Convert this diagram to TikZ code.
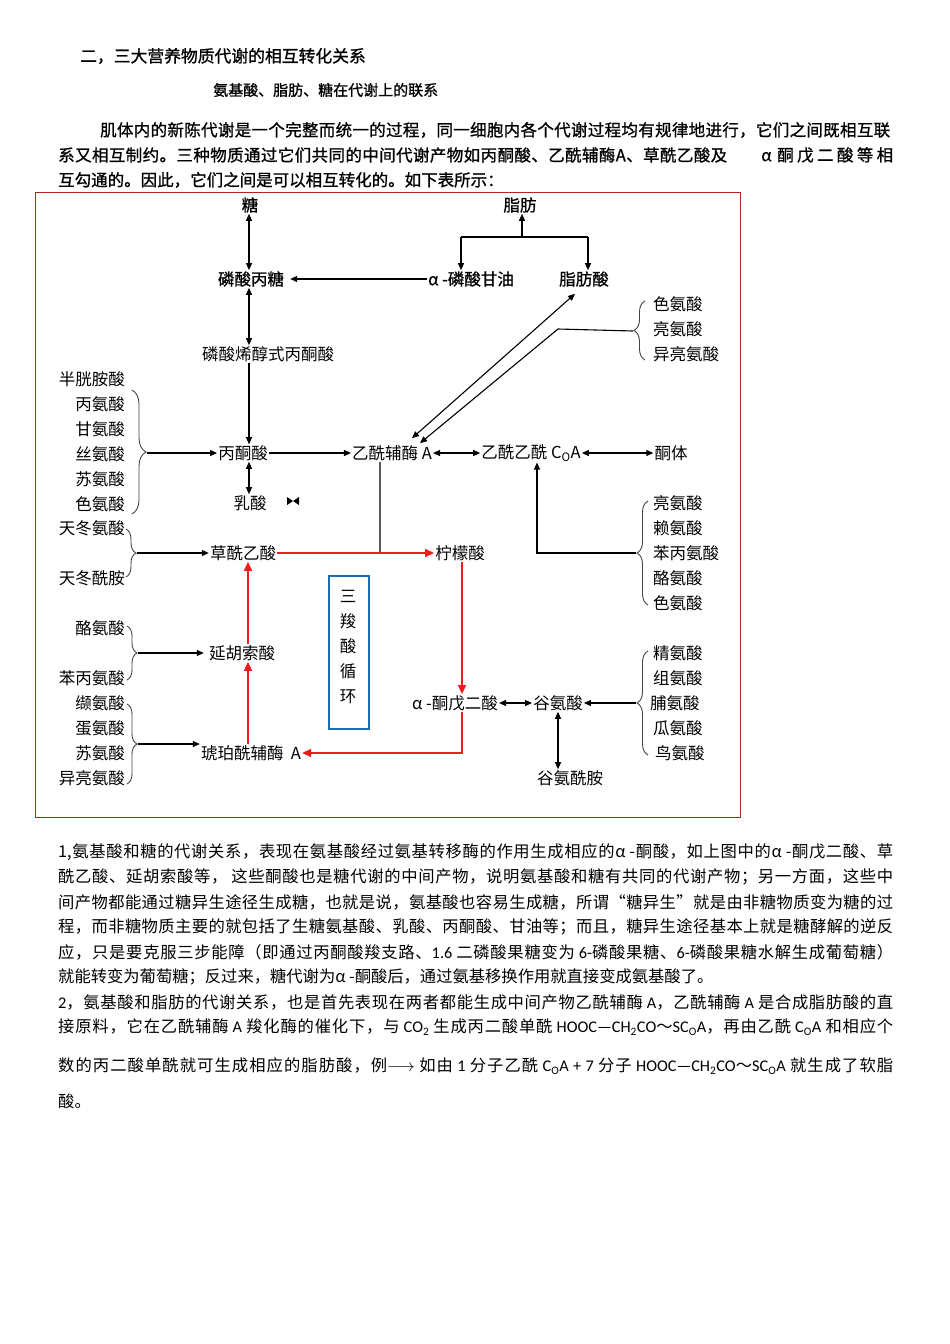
\documentclass[tikz,border=0pt]{standalone}
\usepackage{fontspec}
\setmainfont{Noto Sans CJK SC}
\newfontfamily\hei[FakeBold=1]{Noto Sans CJK SC}
\newfontfamily\carl{Carlito}
\usetikzlibrary{arrows.meta,decorations.pathreplacing}
\XeTeXinterchartokenstate=1
\newXeTeXintercharclass\cjkcls
\makeatletter
\count@="3000
\loop \XeTeXcharclass\count@=\cjkcls \ifnum\count@<"303F \advance\count@ 1 \repeat
\count@="4E00
\loop \XeTeXcharclass\count@=\cjkcls \ifnum\count@<"9FFF \advance\count@ 1 \repeat
\count@="FF00
\loop \XeTeXcharclass\count@=\cjkcls \ifnum\count@<"FFEF \advance\count@ 1 \repeat
\XeTeXcharclass"201C=\cjkcls
\XeTeXcharclass"201D=\cjkcls
\makeatother
\XeTeXinterchartoks\cjkcls\cjkcls={\hskip0pt plus 3pt minus 0.5pt\relax}
\XeTeXinterchartoks 0 \cjkcls={\hskip0pt plus 3pt minus 0.5pt\relax}
\XeTeXinterchartoks\cjkcls 0={\hskip0pt plus 3pt minus 0.5pt\relax}
\definecolor{framered}{HTML}{B3261E}
\definecolor{tcablue}{HTML}{1F6BB0}
\definecolor{redline}{HTML}{EE1C1C}
\definecolor{braceg}{HTML}{444444}
\newcommand\jl[2]{\hbox to #1pt{#2}}
\newcommand\fsD{\fontsize{16.5}{20}\selectfont}
\newcommand\fsP{\fontsize{16.5}{20}\selectfont}
\newcommand\fsQ{\fontsize{16.3}{20}\selectfont}
\newcommand\sub[1]{\textsubscript{#1}}
\tikzset{
  txt/.style={inner sep=0pt, anchor=west, font=\fsQ},
  lb/.style={inner sep=1pt, font=\fsD},
  bl/.style={inner sep=1pt, font=\hei\fsD},
  ln/.style={line width=1.1pt, draw=black},
  arr/.style={ln, -{Triangle[length=7pt,width=6pt]}},
  darr/.style={ln, {Triangle[length=7pt,width=6pt]}-{Triangle[length=7pt,width=6pt]}},
  rarr/.style={line width=1.7pt, draw=redline, -{Triangle[length=9pt,width=8pt]}, color=redline},
  grayln/.style={line width=1.2pt, draw=black!65},
  brc/.style={decorate, decoration={brace, amplitude=#1}, draw=braceg, line width=0.9pt},
  brc/.default=10pt
}
\begin{document}
\begin{tikzpicture}[x=1pt,y=-1pt]
\useasboundingbox (0,0) rectangle (950,1344);
\fill[white] (0,0) rectangle (950,1344);

% ---------- heading text ----------
\node[txt] (title) at (80,56) {\hei\fontsize{16.8}{20}\selectfont 二，三大营养物质代谢的相互转化关系};
\node[txt] (subtitle) at (213,90) {\hei\fontsize{15}{18}\selectfont 氨基酸、脂肪、糖在代谢上的联系};
\node[txt] (p1a) at (100,130) {\hei\fsP\jl{790}{肌体内的新陈代谢是一个完整而统一的过程，同一细胞内各个代谢过程均有规律地进行，它们之间既相互联}};
\node[txt] (p1b) at (58,155) {\hei\fsP\jl{669}{系又相互制约。三种物质通过它们共同的中间代谢产物如丙酮酸、乙酰辅酶A、草酰乙酸及}};
\node[txt] (p1c) at (761,155) {\hei\fsP\jl{132}{α 酮戊二酸等相}};
\node[txt] (p1d) at (58,180) {\hei\fsP 互勾通的。因此，它们之间是可以相互转化的。如下表所示：};

% ---------- frame ----------
\draw[framered, line width=1pt] (35,192) rectangle (740,817);

% ---------- diagram nodes ----------
\coordinate (c1) at (249,0);
\node[bl] (tang) at (250,205) {糖};
\node[bl] (zhifang) at (520,205) {脂肪};
\node[bl] (lsbt) at (251,279) {磷酸丙糖};
\node[bl] (agly) at (471,279) {α -磷酸甘油};
\node[bl] (zfs) at (584,279) {脂肪酸};
\node[lb] (pep) at (268,354) {磷酸烯醇式丙酮酸};
\node[lb] (pyr) at (243,453) {丙酮酸};
\node[lb] (lac) at (250,503) {乳酸};
\node[lb] (acoa) at (392,453) {乙酰辅酶 A};
\node[lb] (aacoa) at (531,453) {乙酰乙酰 C\sub{O}A};
\node[lb] (ket) at (671,453) {酮体};
\node[lb] (oaa) at (243,553) {草酰乙酸};
\node[lb] (cit) at (460,553) {柠檬酸};
\node[lb] (fum) at (242,653) {延胡索酸};
\node[lb] (akg) at (455,703) {α -酮戊二酸};
\node[lb] (glu) at (558,703) {谷氨酸};
\node[lb] (gln) at (570,778) {谷氨酰胺};
\node[lb] (suc) at (251,753) {琥珀酰辅酶 \ A};
\node[draw=tcablue, line width=2.6pt, minimum width=40pt, minimum height=153pt, inner sep=0pt] (tca) at (349,652.5) {};
\node[inner sep=0pt, align=center, font=\fontsize{16.5}{25}\selectfont] (tcat) at (348,647) {三\\羧\\酸\\循\\环};

% bow-tie mark
\fill (287,497) -- (287,505) -- (293,501) -- cycle;
\fill (299,497) -- (299,505) -- (293,501) -- cycle;

% ---------- amino acid labels ----------
\foreach \t/\y [count=\i] in {半胱胺酸/379, 丙氨酸/404, 甘氨酸/429, 丝氨酸/454, 苏氨酸/479, 色氨酸/504,
  天冬氨酸/528, 天冬酰胺/578, 酪氨酸/628, 苯丙氨酸/678, 缬氨酸/703, 蛋氨酸/728, 苏氨酸/753, 异亮氨酸/778}
  \node[lb, anchor=east] (L\i) at (126,\y) {\t};
\foreach \t/\y [count=\i] in {色氨酸/304, 亮氨酸/329, 异亮氨酸/354,
  亮氨酸/503, 赖氨酸/528, 苯丙氨酸/553, 酪氨酸/578, 色氨酸/603,
  精氨酸/653, 组氨酸/678, 瓜氨酸/728}
  \node[lb, anchor=west] (R\i) at (652,\y) {\t};
\node[lb, anchor=west] (Rp) at (649,703) {脯氨酸};
\node[lb, anchor=west] (Rn) at (654,753) {鸟氨酸};

% ---------- braces ----------
\draw[brc=14pt] (132,390) -- (132,514);
\coordinate (g1tip) at (147,453);
\draw[brc=10pt] (126,529) -- (126,577);
\coordinate (g2tip) at (137,553);
\draw[brc=10pt] (127,626) -- (127,680);
\coordinate (g3tip) at (138,653);
\draw[brc=10pt] (127,704) -- (127,784);
\coordinate (g4tip) at (138,744);
\draw[brc=11pt] (645,360) -- (645,301);
\coordinate (r1tip) at (633,331);
\draw[brc=11pt] (648,605) -- (648,501);
\coordinate (r2tip) at (636,553);
\draw[brc=11pt] (648,755) -- (648,651);
\coordinate (r3tip) at (636,703);

% ---------- black connectors ----------
\draw[darr] (c1 |- tang.south) -- (c1 |- lsbt.north);
\coordinate (fb) at (522,237);
\coordinate (fl) at (461,237);
\coordinate (fr) at (588,237);
\draw[ln] (fl) -- (fr);
\draw[arr] (fb) -- (fb |- zhifang.south);
\draw[arr] (fl) -- (fl |- agly.north);
\draw[arr] (fr) -- (fr |- zfs.north);
\draw[arr] (agly.west) -- ([xshift=5pt]lsbt.east);
\draw[darr] (c1 |- lsbt.south) -- (c1 |- pep.north);
\draw[arr] (c1 |- pep.south) -- (c1 |- pyr.north);
\draw[darr] (c1 |- pyr.south) -- (c1 |- lac.north);
\draw[arr] (pyr.east) -- (acoa.west);
\draw[darr] (acoa.east) -- (aacoa.west);
\draw[darr] (aacoa.east) -- (ket.west);
\draw[darr] ([xshift=-9pt,yshift=-6pt]zfs.south) -- ([xshift=20pt,yshift=6pt]acoa.north);
\coordinate (bend) at (558,329);
\draw[arr] (r1tip) -- (bend) -- ([xshift=28pt,yshift=1pt]acoa.north);
\draw[arr] (g1tip) -- (pyr.west);
\draw[arr] (g2tip) -- (oaa.west);
\draw[arr] (g3tip) -- ([xshift=-4pt]fum.west);
\draw[arr] (g4tip) -- (suc.west |- g4tip);
\draw[arr] (r2tip) -| ([xshift=6pt]aacoa.south);
\draw[arr] (r3tip) -- (glu.east);
\draw[darr] (akg.east) -- (glu.west);
\draw[darr] (glu.south) -- (glu.south |- gln.north);
\draw[grayln] ([xshift=-12pt]acoa.south) -- ([xshift=-12pt]acoa.south |- oaa.east);

% ---------- red cycle ----------
\draw[rarr] (oaa.east) -- (cit.west);
\draw[rarr] ([xshift=2pt]cit.south) -- ([xshift=2pt]cit.south |- akg.north);
\draw[rarr] ([xshift=7pt]akg.south) |- (suc.east);
\draw[rarr] ([xshift=-3pt]suc.north) -- ([xshift=-3pt]suc.north |- fum.south);
\draw[rarr] ([xshift=6pt]fum.north) -- ([xshift=6pt]fum.north |- oaa.south);

% ---------- bottom paragraphs ----------
\node[txt] (q1) at (58,852) {\jl{835}{1,氨基酸和糖的代谢关系，表现在氨基酸经过氨基转移酶的作用生成相应的α -酮酸，如上图中的α -酮戊二酸、草}};
\node[txt] (q2) at (58,877) {\jl{835}{酰乙酸、延胡索酸等， 这些酮酸也是糖代谢的中间产物，说明氨基酸和糖有共同的代谢产物；另一方面，这些中}};
\node[txt] (q3) at (58,902) {\jl{835}{间产物都能通过糖异生途径生成糖，也就是说，氨基酸也容易生成糖，所谓“糖异生”就是由非糖物质变为糖的过}};
\node[txt] (q4) at (58,927) {\jl{835}{程，而非糖物质主要的就包括了生糖氨基酸、乳酸、丙酮酸、甘油等；而且，糖异生途径基本上就是糖酵解的逆反}};
\node[txt] (q5) at (58,952) {\jl{835}{应，只是要克服三步能障（即通过丙酮酸羧支路、{\carl 1.6} 二磷酸果糖变为 {\carl 6-}磷酸果糖、{\carl 6-}磷酸果糖水解生成葡萄糖）}};
\node[txt] (q6) at (58,977) {就能转变为葡萄糖；反过来，糖代谢为α -酮酸后，通过氨基移换作用就直接变成氨基酸了。};
\node[txt] (q7) at (58,1002) {\jl{835}{{\carl 2}，氨基酸和脂肪的代谢关系，也是首先表现在两者都能生成中间产物乙酰辅酶 {\carl A}，乙酰辅酶 {\carl A} 是合成脂肪酸的直}};
\node[txt] (q8) at (58,1027) {\jl{835}{接原料，它在乙酰辅酶 {\carl A} 羧化酶的催化下，与 {\carl CO\sub{2}} 生成丙二酸单酰 {\carl HOOC—CH\sub{2}CO}～{\carl SC\sub{O}A}，再由乙酰 {\carl C\sub{O}A} 和相应个}};
\node[txt] (q9) at (58,1066) {\jl{835}{数的丙二酸单酰就可生成相应的脂肪酸，例$\longrightarrow$ 如由 {\carl 1} 分子乙酰 {\carl C\sub{O}A + 7} 分子 {\carl HOOC—CH\sub{2}CO}～{\carl SC\sub{O}A} 就生成了软脂}};
\node[txt] (q10) at (58,1101) {酸。};
\end{tikzpicture}
\end{document}
